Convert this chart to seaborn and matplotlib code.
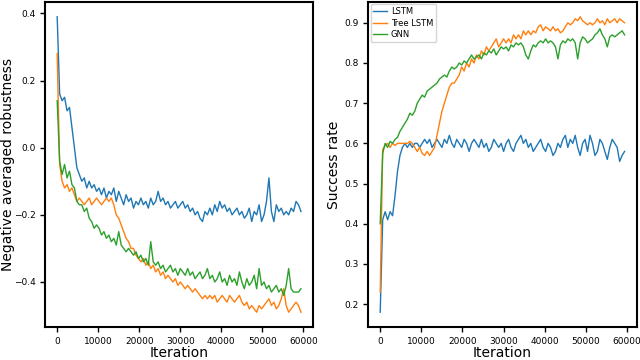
import matplotlib
matplotlib.use("Agg")
import matplotlib.pyplot as plt
import numpy as np
import pandas as pd
import seaborn as sns

# Iterations (one reading every 600 steps)
iterations = np.arange(0, 60000, 600)
models = ["LSTM", "Tree LSTM", "GNN"]

# Left panel: negative averaged robustness
rob_lstm = [0.39, 0.16, 0.14, 0.15, 0.11, 0.12, 0.06, 0.0, -0.06, -0.08,
            -0.1, -0.09, -0.12, -0.1, -0.12, -0.11, -0.13, -0.12, -0.14, -0.12,
            -0.15, -0.13, -0.14, -0.12, -0.16, -0.13, -0.15, -0.17, -0.14, -0.16,
            -0.15, -0.18, -0.16, -0.17, -0.15, -0.17, -0.16, -0.18, -0.15, -0.17,
            -0.16, -0.13, -0.16, -0.15, -0.17, -0.16, -0.18, -0.17, -0.16, -0.18,
            -0.17, -0.16, -0.18, -0.17, -0.19, -0.18, -0.2, -0.19, -0.21, -0.22,
            -0.19, -0.2, -0.18, -0.2, -0.17, -0.19, -0.16, -0.18, -0.17, -0.19,
            -0.18, -0.2, -0.19, -0.18, -0.2, -0.19, -0.21, -0.2, -0.18, -0.22,
            -0.19, -0.2, -0.17, -0.22, -0.2, -0.16, -0.09, -0.19, -0.22, -0.17,
            -0.19, -0.18, -0.2, -0.19, -0.2, -0.18, -0.19, -0.16, -0.17, -0.19]
rob_tree = [0.28, -0.05, -0.1, -0.12, -0.11, -0.13, -0.12, -0.14, -0.16, -0.15,
            -0.16, -0.17, -0.16, -0.15, -0.17, -0.16, -0.15, -0.16, -0.17, -0.16,
            -0.15, -0.16, -0.15, -0.17, -0.2, -0.21, -0.23, -0.25, -0.27, -0.28,
            -0.3, -0.3, -0.32, -0.33, -0.34, -0.33, -0.35, -0.34, -0.36, -0.35,
            -0.37, -0.36, -0.38, -0.37, -0.39, -0.38, -0.39, -0.4, -0.39, -0.41,
            -0.4, -0.41, -0.42, -0.41, -0.42, -0.43, -0.42, -0.43, -0.44, -0.45,
            -0.44, -0.45, -0.44, -0.45, -0.44, -0.46, -0.45, -0.44, -0.45, -0.46,
            -0.44, -0.45, -0.46, -0.45, -0.44, -0.46, -0.47, -0.46, -0.48, -0.47,
            -0.48, -0.49, -0.47, -0.48, -0.47, -0.46, -0.45, -0.47, -0.46, -0.48,
            -0.47, -0.45, -0.42, -0.47, -0.49, -0.48, -0.47, -0.46, -0.47, -0.49]
rob_gnn = [0.14, -0.04, -0.08, -0.05, -0.09, -0.07, -0.11, -0.12, -0.16, -0.17,
           -0.17, -0.19, -0.18, -0.21, -0.22, -0.24, -0.23, -0.24, -0.26, -0.25,
           -0.27, -0.26, -0.28, -0.27, -0.29, -0.25, -0.29, -0.3, -0.31, -0.3,
           -0.31, -0.32, -0.31, -0.33, -0.32, -0.34, -0.33, -0.35, -0.28, -0.34,
           -0.35, -0.34, -0.36, -0.35, -0.37, -0.36, -0.35, -0.37, -0.36, -0.38,
           -0.36, -0.37, -0.38, -0.36, -0.38, -0.37, -0.39, -0.38, -0.37, -0.39,
           -0.38, -0.36, -0.39, -0.38, -0.4, -0.39, -0.37, -0.4, -0.39, -0.41,
           -0.38, -0.4, -0.39, -0.41, -0.37, -0.4, -0.42, -0.39, -0.41, -0.4,
           -0.38, -0.42, -0.36, -0.41, -0.4, -0.42, -0.41, -0.43, -0.42, -0.41,
           -0.43, -0.42, -0.44, -0.41, -0.36, -0.42, -0.43, -0.43, -0.43, -0.42]

# Right panel: success rate
sr_lstm = [0.18, 0.41, 0.43, 0.41, 0.43, 0.42, 0.47, 0.53, 0.57, 0.59,
           0.6, 0.59, 0.6, 0.59, 0.6, 0.6, 0.59, 0.6, 0.61, 0.6,
           0.61, 0.59, 0.6, 0.61, 0.6, 0.59, 0.61, 0.6, 0.62, 0.6,
           0.59, 0.61, 0.6, 0.59, 0.61, 0.6, 0.58, 0.6, 0.61, 0.6,
           0.59, 0.61, 0.59, 0.6, 0.58, 0.59, 0.61, 0.6, 0.59, 0.6,
           0.58, 0.6, 0.61, 0.59, 0.58, 0.6, 0.61, 0.62, 0.6, 0.61,
           0.59, 0.6, 0.58, 0.59, 0.6, 0.61, 0.59, 0.58, 0.6, 0.59,
           0.57, 0.58, 0.6, 0.59, 0.61, 0.62, 0.59, 0.61, 0.6, 0.62,
           0.59, 0.57, 0.6, 0.61, 0.58, 0.62, 0.6, 0.57, 0.58, 0.61,
           0.6, 0.58, 0.56, 0.59, 0.61, 0.6, 0.59, 0.555, 0.57, 0.58]
sr_tree = [0.23, 0.585, 0.595, 0.6, 0.59, 0.6, 0.595, 0.6, 0.6, 0.6,
           0.6, 0.6, 0.605, 0.6, 0.59, 0.58, 0.59, 0.575, 0.57, 0.58,
           0.57, 0.58, 0.59, 0.62, 0.65, 0.68, 0.7, 0.72, 0.74, 0.75,
           0.75, 0.76, 0.77, 0.79, 0.78, 0.8, 0.79, 0.81, 0.8, 0.82,
           0.81, 0.83, 0.82, 0.84, 0.83, 0.84, 0.85, 0.86, 0.84, 0.85,
           0.86, 0.85, 0.86, 0.85, 0.87, 0.86, 0.87, 0.86, 0.88, 0.87,
           0.88, 0.87, 0.88, 0.875, 0.89, 0.895, 0.88, 0.89, 0.885, 0.88,
           0.89, 0.88, 0.885, 0.875, 0.88, 0.89, 0.9, 0.895, 0.9, 0.91,
           0.905, 0.915, 0.905, 0.9, 0.895, 0.9, 0.895, 0.9, 0.91, 0.9,
           0.905, 0.895, 0.91, 0.9, 0.905, 0.91, 0.9, 0.91, 0.905, 0.9]
sr_gnn = [0.4, 0.575, 0.6, 0.59, 0.605, 0.6, 0.61, 0.615, 0.63, 0.64,
          0.65, 0.66, 0.675, 0.67, 0.68, 0.7, 0.71, 0.72, 0.715, 0.73,
          0.735, 0.74, 0.745, 0.75, 0.76, 0.765, 0.77, 0.765, 0.78, 0.79,
          0.785, 0.79, 0.8, 0.795, 0.805, 0.8, 0.81, 0.82, 0.81, 0.815,
          0.82, 0.81, 0.825, 0.82, 0.83, 0.825, 0.835, 0.82, 0.83, 0.84,
          0.835, 0.84, 0.83, 0.845, 0.84, 0.85, 0.845, 0.85, 0.84, 0.82,
          0.81, 0.83, 0.845, 0.84, 0.85, 0.855, 0.85, 0.86, 0.85, 0.855,
          0.85, 0.84, 0.81, 0.845, 0.855, 0.85, 0.86, 0.855, 0.86, 0.85,
          0.81, 0.85, 0.865, 0.86, 0.85, 0.855, 0.86, 0.87, 0.875, 0.885,
          0.87, 0.86, 0.84, 0.865, 0.87, 0.865, 0.87, 0.875, 0.88, 0.87]


def long_form(series):
    frames = []
    for name, vals in zip(models, series):
        frames.append(pd.DataFrame({"Iteration": iterations, "value": vals, "model": name}))
    return pd.concat(frames, ignore_index=True)


df_rob = long_form([rob_lstm, rob_tree, rob_gnn])
df_sr = long_form([sr_lstm, sr_tree, sr_gnn])

palette = {"LSTM": "#1f77b4", "Tree LSTM": "#ff7f0e", "GNN": "#2ca02c"}

fig = plt.figure(figsize=(6.4, 3.6), dpi=100)
ax1 = fig.add_axes([0.0703, 0.0917, 0.419, 0.9028])
ax2 = fig.add_axes([0.575, 0.0917, 0.42, 0.9028])

sns.lineplot(data=df_rob, x="Iteration", y="value", hue="model", palette=palette,
             hue_order=models, linewidth=1.0, legend=False, ax=ax1)
sns.lineplot(data=df_sr, x="Iteration", y="value", hue="model", palette=palette,
             hue_order=models, linewidth=1.0, ax=ax2)

ax1.set_ylabel("Negative averaged robustness", fontsize=10)
ax2.set_ylabel("Success rate", fontsize=10)
ax1.yaxis.set_label_coords(-0.112, 0.5)
ax2.yaxis.set_label_coords(-0.1, 0.5)
ax1.set_yticks([0.4, 0.2, 0.0, -0.2, -0.4])
ax2.set_yticks([0.2, 0.3, 0.4, 0.5, 0.6, 0.7, 0.8, 0.9])

for ax in (ax1, ax2):
    ax.set_xlabel("Iteration", fontsize=10, labelpad=0)
    ax.set_xticks([0, 10000, 20000, 30000, 40000, 50000, 60000])
    ax.tick_params(labelsize=6.5, width=1.0, length=3.5)
    for s in ax.spines.values():
        s.set_linewidth(1.5)

leg = ax2.legend(loc="upper left", fontsize=6, handlelength=1.6, handletextpad=0.5,
                 labelspacing=0.3, borderpad=0.35, borderaxespad=0.3, frameon=True)
leg.set_title(None)

fig.savefig("out.png", dpi=100)
